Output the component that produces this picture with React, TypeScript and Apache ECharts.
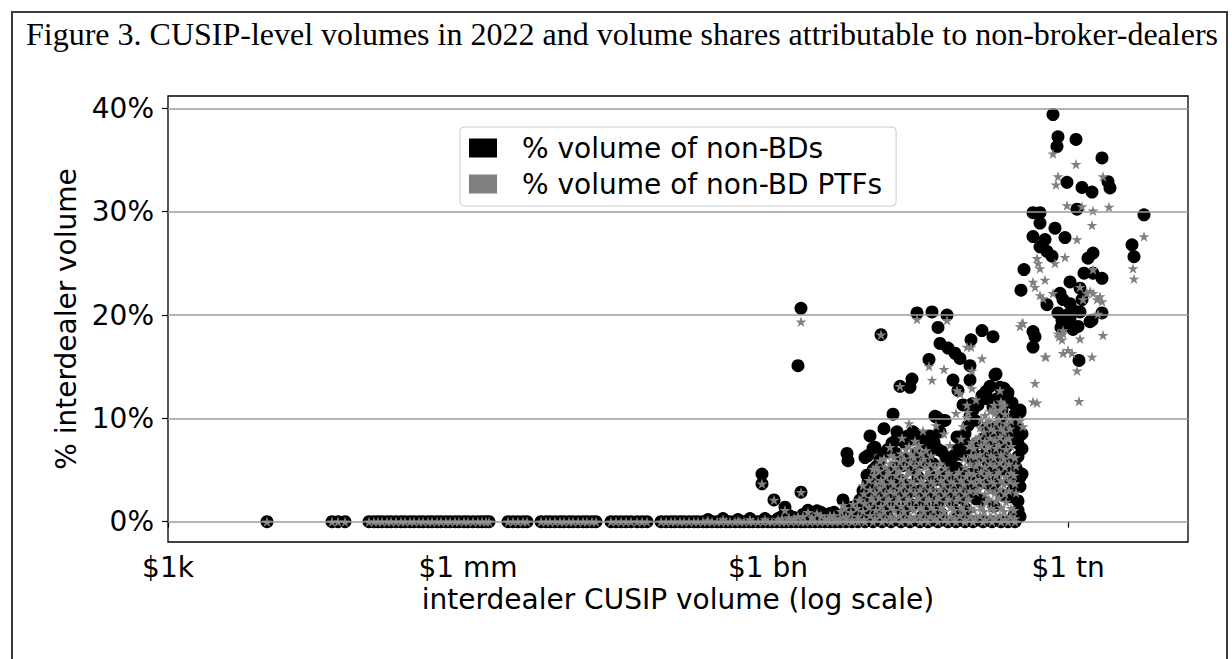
import React, { useEffect, useRef } from 'react';
import * as echarts from 'echarts';

const TITLE = 'Figure 3. CUSIP-level volumes in 2022 and volume shares attributable to non-broker-dealers';
const SERIES_NAMES = ['% volume of non-BDs', '% volume of non-BD PTFs'];
const X_NAME = 'interdealer CUSIP volume (log scale)';
const Y_NAME = '% interdealer volume';
// x values are log10 of the dollar volume
const X_TICKS = [3, 6, 9, 12];
const X_TICK_LABELS = ['$1k', '$1 mm', '$1 bn', '$1 tn'];
const Y_TICKS = [0, 10, 20, 30, 40];

// CUSIPs with zero share in both measures (log10 volume)
const zeroShareVolumes = [
  3.99, 4.64, 4.70, 4.77,
  5.01, 5.06, 5.10, 5.14, 5.19, 5.23, 5.28, 5.33, 5.37, 5.42, 5.46, 5.51, 5.55, 5.60, 5.64, 5.69,
  5.73, 5.78, 5.82, 5.87, 5.91, 5.96, 6.00, 6.05, 6.10, 6.14, 6.18, 6.21,
  6.40, 6.45, 6.50, 6.55, 6.59,
  6.73, 6.78, 6.82, 6.87, 6.92, 6.96, 7.01, 7.05, 7.10, 7.15, 7.19, 7.24, 7.28,
  7.43, 7.48, 7.53, 7.58, 7.63, 7.69, 7.74, 7.79,
  7.93, 7.98, 8.03, 8.07, 8.12, 8.16, 8.21, 8.26, 8.30, 8.35, 8.39, 8.44, 8.49, 8.53, 8.58, 8.62,
  8.67, 8.72, 8.76, 8.81, 8.85, 8.90, 8.95, 9.00, 9.04, 9.09, 9.14, 9.18, 9.23, 9.28, 9.33, 9.37,
  9.42, 9.47, 9.52, 9.57, 9.62, 9.67, 9.72, 9.78, 9.84, 9.90, 9.97, 10.05, 10.14, 10.23, 10.33,
  10.42, 10.52, 10.60, 10.70, 10.80, 10.88, 10.97, 11.05, 11.15, 11.24, 11.33, 11.40, 11.47,
];

// near-zero shares, [log10 volume, %]
const nearZeroNonBd: [number, number][] = [
  [8.40, 0.2], [8.55, 0.3], [8.70, 0.2], [8.82, 0.3], [8.97, 0.3], [9.10, 0.3], [9.14, 0.5], [9.21, 0.6],
  [9.26, 0.4], [9.35, 0.7], [9.44, 0.6], [9.53, 0.9], [9.57, 0.4], [9.60, 0.4], [9.66, 0.9], [9.67, 0.3],
  [9.72, 0.5], [9.78, 0.7],
];
const nearZeroPtf: [number, number][] = [
  [8.40, 0.1], [8.55, 0.2], [8.70, 0.1], [8.82, 0.2], [8.97, 0.2], [9.10, 0.2], [9.14, 0.3], [9.21, 0.4],
  [9.26, 0.3], [9.35, 0.5], [9.44, 0.4], [9.53, 0.6], [9.57, 0.3], [9.60, 0.2], [9.66, 0.6], [9.67, 0.2],
  [9.72, 0.3], [9.78, 0.4],
];

// % volume of non-BDs, [log10 volume, %]
const nonBdPoints: [number, number][] = [
  [8.94, 4.6], [8.94, 3.66], [9.06, 2.1], [9.17, 1.4], [9.33, 2.85], [9.30, 15.1], [9.33, 20.65], [9.40, 1.1],
  [9.49, 1.05], [9.62, 0.8], [9.75, 2.1], [9.92, 2.1], [10.13, 18.1],
  [10.49, 20.2], [10.64, 20.3], [10.79, 20.0], [10.70, 18.8], [10.61, 15.7], [10.44, 13.8], [10.42, 13.0],
  [10.32, 13.1], [10.25, 10.4], [10.69, 10.1], [10.16, 9.0], [10.02, 8.3], [10.29, 8.7], [10.45, 8.7],
  [10.54, 8.2], [10.07, 7.2], [10.00, 6.4], [9.79, 6.6], [9.80, 5.9], [9.97, 6.2], [10.05, 7.1],
  [11.14, 18.5], [11.25, 17.9], [11.03, 17.6], [10.72, 17.25], [10.80, 16.8], [10.87, 16.3], [10.92, 15.8],
  [11.02, 15.1], [11.28, 14.3], [10.85, 13.7], [10.90, 12.7], [11.02, 13.7], [11.32, 13.0], [11.39, 12.2],
  [11.19, 11.9], [11.29, 11.9], [10.95, 11.3], [11.04, 11.4], [11.52, 10.8], [10.67, 10.2], [10.75, 9.8],
  [10.72, 8.7], [10.89, 8.2], [10.97, 8.5], [10.47, 8.5], [10.59, 7.9], [10.67, 7.2], [11.54, 8.5],
  [11.54, 7.05], [11.54, 4.6], [11.50, 1.1], [10.99, 7.2], [11.07, 5.9], [11.19, 7.2], [11.24, 7.9],
  [11.29, 9.2], [11.42, 2.4], [11.27, 14.2], [11.25, 11.1], [11.34, 10.8], [11.52, 10.6], [11.25, 8.85],
  [11.32, 7.9], [11.25, 6.25], [11.52, 4.3], [11.07, 9.8], [10.55, 7.9], [10.62, 6.9], [10.77, 9.8],
  [11.05, 5.9],
  [11.85, 39.4], [11.90, 37.25], [11.89, 36.3], [12.08, 37.0], [12.34, 35.2], [11.99, 32.85], [12.14, 32.35],
  [12.24, 31.9], [12.40, 32.9], [12.42, 32.3], [12.09, 30.25], [11.65, 29.9], [11.72, 29.9], [11.72, 28.9],
  [12.76, 29.7], [11.87, 28.4], [11.97, 27.5], [11.65, 27.6], [11.77, 27.3], [11.72, 26.6], [11.79, 26.15],
  [11.84, 25.7], [12.25, 26.0], [12.20, 25.5], [11.56, 24.4], [12.16, 24.05], [12.25, 24.05], [12.34, 23.55],
  [12.64, 26.8], [12.66, 25.65], [11.53, 22.4], [12.02, 23.2], [12.12, 22.6], [11.92, 22.1], [11.95, 21.5],
  [12.02, 21.1], [12.14, 21.5], [11.79, 21.0], [12.24, 19.5], [12.34, 20.2], [11.94, 19.5], [12.02, 19.7],
  [12.10, 18.9], [12.12, 20.3], [11.65, 18.4], [11.67, 17.9], [11.65, 16.9], [12.11, 15.6], [11.90, 20.2],
  [11.96, 19.0], [12.05, 18.6], [12.06, 20.4], [11.99, 20.0], [11.93, 18.8], [12.22, 19.35],
  // edge and interior of the dense cluster
  [9.80, 1.2], [9.85, 1.4], [9.88, 0.9], [9.93, 1.8], [9.97, 2.6], [10.00, 3.8], [10.03, 4.6], [10.08, 5.3],
  [10.12, 6.0], [10.16, 6.6], [10.20, 7.0], [10.24, 7.6], [10.28, 7.9], [10.33, 8.1], [10.37, 7.6],
  [10.40, 8.3], [10.43, 7.9], [10.50, 8.0], [10.58, 7.6], [10.62, 8.3], [10.66, 7.7], [10.70, 7.0],
  [10.74, 6.8], [10.78, 6.2], [10.82, 5.8], [10.86, 6.4], [10.90, 7.0], [10.93, 6.5], [10.97, 7.6],
  [11.00, 9.3], [11.02, 10.2], [11.05, 10.8], [11.10, 11.3], [11.14, 12.2], [11.18, 12.6], [11.22, 13.1],
  [11.36, 12.9], [11.40, 12.5], [11.44, 11.5], [11.47, 10.4], [11.49, 9.0], [11.50, 7.6], [11.50, 6.3],
  [11.48, 5.2], [11.52, 3.4], [11.50, 2.0], [11.46, 0.6], [11.52, 0.5],
  [9.85, 0.3], [9.92, 0.6], [10.02, 1.2], [10.10, 2.0], [10.18, 3.2], [10.26, 1.6], [10.33, 4.0],
  [10.38, 2.4], [10.46, 5.2], [10.52, 3.0], [10.57, 1.4], [10.63, 4.4], [10.68, 2.6], [10.73, 0.8],
  [10.78, 3.6], [10.84, 1.8], [10.92, 3.4], [10.98, 1.2], [11.03, 4.6], [11.08, 2.2], [11.12, 6.3],
  [11.17, 3.8], [11.21, 8.4], [11.26, 1.5], [11.30, 5.0], [11.34, 2.6], [11.38, 7.2], [11.42, 4.1],
  [11.45, 9.3], [10.36, 6.1], [10.48, 6.6], [10.56, 5.7], [10.26, 5.2], [10.15, 4.6], [10.07, 3.2],
  [9.85, 1.4], [9.95, 3.0], [9.99, 4.5], [10.05, 5.0], [10.12, 4.3],
  [9.82, 0.6], [9.90, 1.5], [9.96, 0.8], [10.04, 2.2], [10.09, 0.9], [10.14, 2.6], [10.20, 1.2],
  [10.23, 4.1], [10.30, 2.9], [10.35, 0.9], [10.41, 3.5], [10.44, 1.6], [10.50, 4.3], [10.54, 2.1],
  [10.60, 3.3], [10.65, 5.6], [10.70, 1.7], [10.75, 4.6], [10.80, 2.4], [10.86, 3.0], [10.89, 5.2],
  [10.95, 2.2], [11.00, 4.0], [11.04, 6.8], [11.10, 4.8], [11.15, 8.0], [11.20, 5.8], [11.24, 3.3],
  [11.29, 6.8], [11.35, 9.0], [11.40, 6.0], [11.44, 2.9], [10.28, 6.6], [10.40, 5.4], [10.60, 6.5],
  [10.19, 0.6], [10.25, 2.3], [10.29, 4.0], [10.34, 5.4], [10.39, 1.5], [10.45, 3.0], [10.49, 5.9],
  [10.55, 0.6], [10.59, 2.4], [10.64, 1.0], [10.69, 4.1], [10.74, 2.7], [10.79, 5.0], [10.84, 4.3],
  [10.90, 0.9], [10.94, 4.5], [10.99, 2.9], [11.06, 3.4], [11.09, 7.6], [11.14, 2.1], [11.19, 4.9],
  [11.24, 7.0], [11.28, 3.9], [11.33, 6.0], [11.39, 4.8], [11.43, 8.4], [11.34, 10.1], [11.19, 9.1],
];

// % volume of non-BD PTFs, sparse points, [log10 volume, %]
const ptfPoints: [number, number][] = [
  [9.33, 19.35], [10.13, 18.1], [10.49, 19.6], [10.61, 15.05], [10.64, 13.7], [10.32, 13.1], [10.41, 9.5],
  [8.94, 3.66], [9.33, 2.85], [9.06, 2.1], [9.92, 2.1], [10.79, 19.5], [11.03, 16.9], [11.14, 15.8],
  [10.76, 14.75], [11.55, 19.2], [11.77, 15.95], [11.67, 13.4], [11.65, 11.6], [11.69, 11.5], [11.95, 18.2],
  [11.95, 16.3], [11.72, 21.9], [10.89, 12.7], [10.99, 11.3], [11.04, 7.7], [10.05, 5.1], [10.99, 16.9],
  [11.04, 14.6], [11.32, 12.7], [11.35, 11.3], [11.27, 10.8], [11.04, 12.9], [10.92, 12.4], [10.99, 10.1],
  [11.52, 9.8], [11.55, 9.2], [9.17, 1.1], [9.40, 0.9], [9.49, 0.8], [9.62, 0.6], [9.75, 1.6], [9.30, 0.5],
  [10.95, 9.2], [11.00, 10.6], [10.93, 8.0], [11.08, 11.8], [10.88, 10.5], [10.82, 7.4], [10.76, 8.5],
  [10.68, 9.3], [10.55, 8.8], [10.47, 7.8], [10.34, 8.1], [10.22, 7.2], [10.12, 5.9],
  [11.85, 35.6], [12.08, 34.6], [11.90, 33.4], [11.88, 32.6], [12.35, 33.4], [11.99, 30.6], [12.14, 30.5],
  [12.25, 30.1], [12.41, 30.45], [12.24, 28.7], [12.09, 27.3], [11.97, 25.6], [11.69, 25.5], [11.72, 24.5],
  [11.87, 25.0], [11.70, 25.0], [12.25, 24.4], [12.76, 27.6], [12.65, 24.5], [12.66, 23.5], [11.65, 23.2],
  [11.67, 22.7], [11.77, 23.4], [11.85, 22.1], [11.75, 21.6], [12.25, 22.1], [12.32, 21.8], [12.34, 21.3],
  [12.29, 21.5], [12.22, 22.3], [11.54, 19.2], [11.52, 18.9], [11.90, 18.2], [11.94, 17.6], [11.91, 17.9],
  [11.95, 18.5], [12.12, 17.7], [12.35, 18.05], [12.04, 16.3], [12.00, 16.6], [11.78, 15.95], [12.24, 15.95],
  [12.09, 14.6], [12.11, 11.65], [12.15, 21.5], [12.12, 22.7], [12.19, 22.1], [12.30, 20.1],
];

// % volume of non-BD PTFs, dense cluster between $5 bn and $300 bn
const clusterPtfPoints: [number, number][] = [
  [9.72, 0.3], [9.73, 1.0], [9.78, 0.5], [9.77, 1.3], [9.84, 0.2], [9.83, 0.9], [9.85, 1.7],
  [9.90, 0.5], [9.89, 1.3], [9.91, 2.1], [9.96, 0.2], [9.95, 1.0], [9.97, 1.8], [9.96, 2.7], [9.95, 3.5],
  [10.02, 0.6], [10.01, 1.4], [10.03, 2.3], [10.02, 3.1], [10.01, 4.0],
  [10.07, 0.3], [10.08, 1.1], [10.06, 1.9], [10.07, 2.8], [10.08, 3.7], [10.06, 4.5], [10.08, 5.3],
  [10.12, 0.6], [10.13, 1.5], [10.11, 2.3], [10.12, 3.2], [10.13, 4.0], [10.11, 4.9],
  [10.17, 0.2], [10.16, 1.0], [10.18, 1.9], [10.17, 2.7], [10.16, 3.6], [10.18, 4.4], [10.17, 5.3], [10.16, 6.1],
  [10.22, 0.5], [10.23, 1.4], [10.21, 2.2], [10.22, 3.0], [10.23, 3.9], [10.21, 4.8], [10.22, 5.6], [10.23, 6.4],
  [10.27, 0.3], [10.26, 1.1], [10.28, 1.9], [10.27, 2.8], [10.26, 3.6], [10.28, 4.5], [10.27, 5.3], [10.26, 6.2],
  [10.32, 0.6], [10.33, 1.5], [10.31, 2.3], [10.32, 3.2], [10.33, 4.1], [10.31, 4.9], [10.32, 5.8], [10.33, 6.6],
  [10.37, 0.2], [10.36, 1.0], [10.38, 1.9], [10.37, 2.7], [10.36, 3.6], [10.38, 4.4], [10.37, 5.3], [10.36, 6.1], [10.38, 7.0],
  [10.42, 0.5], [10.43, 1.4], [10.41, 2.2], [10.42, 3.1], [10.43, 3.9], [10.41, 4.8], [10.42, 5.7], [10.43, 6.5], [10.41, 7.3],
  [10.47, 0.3], [10.46, 1.1], [10.48, 2.0], [10.47, 2.8], [10.46, 3.7], [10.48, 4.5], [10.47, 5.4], [10.46, 6.2], [10.48, 7.0],
  [10.52, 0.6], [10.53, 1.4], [10.51, 2.3], [10.52, 3.1], [10.53, 4.0], [10.51, 4.9], [10.52, 5.7], [10.53, 6.6], [10.51, 7.4],
  [10.57, 0.2], [10.56, 1.0], [10.58, 1.9], [10.57, 2.7], [10.56, 3.6], [10.58, 4.4], [10.57, 5.3], [10.56, 6.1], [10.58, 6.9],
  [10.62, 0.5], [10.63, 1.4], [10.61, 2.2], [10.62, 3.1], [10.63, 3.9], [10.61, 4.8], [10.62, 5.6], [10.63, 6.4],
  [10.67, 0.3], [10.66, 1.1], [10.68, 2.0], [10.67, 2.8], [10.66, 3.7], [10.68, 4.5], [10.67, 5.3],
  [10.72, 0.6], [10.73, 1.4], [10.71, 2.3], [10.72, 3.1], [10.73, 4.0], [10.71, 4.8], [10.72, 5.6],
  [10.77, 0.2], [10.76, 1.0], [10.78, 1.9], [10.77, 2.7], [10.76, 3.6], [10.78, 4.4], [10.77, 5.2],
  [10.82, 0.5], [10.83, 1.4], [10.81, 2.2], [10.82, 3.1], [10.83, 3.9], [10.81, 4.7],
  [10.87, 0.3], [10.86, 1.1], [10.88, 2.0], [10.87, 2.8], [10.86, 3.7], [10.88, 4.5],
  [10.92, 0.6], [10.93, 1.4], [10.91, 2.3], [10.92, 3.1], [10.93, 4.0], [10.91, 4.8],
  [10.97, 0.2], [10.96, 1.0], [10.98, 1.9], [10.97, 2.7], [10.96, 3.6], [10.98, 4.4], [10.97, 5.3], [10.96, 6.1],
  [11.02, 0.5], [11.03, 1.3], [11.01, 2.2], [11.02, 3.0], [11.03, 3.9], [11.01, 4.7], [11.02, 5.6], [11.03, 6.4], [11.01, 7.3],
  [11.07, 0.3], [11.06, 1.1], [11.08, 2.9], [11.07, 3.7], [11.06, 4.6], [11.08, 5.4], [11.07, 6.3], [11.06, 7.1], [11.08, 8.0],
  [11.12, 0.6], [11.13, 1.4], [11.11, 3.1], [11.12, 4.0], [11.13, 4.8], [11.11, 5.7], [11.12, 6.5], [11.13, 7.4],
  [11.11, 8.2], [11.12, 9.1], [11.13, 9.9],
  [11.17, 0.2], [11.16, 1.0], [11.18, 1.9], [11.17, 2.7], [11.16, 3.6], [11.18, 4.4], [11.17, 5.3], [11.16, 6.1],
  [11.18, 7.0], [11.17, 7.8], [11.16, 8.7], [11.18, 9.5], [11.17, 10.3],
  [11.22, 0.5], [11.23, 1.3], [11.21, 2.2], [11.22, 3.0], [11.23, 3.9], [11.21, 4.7], [11.22, 5.6], [11.23, 6.4],
  [11.21, 7.3], [11.22, 8.1], [11.23, 9.0], [11.21, 9.8], [11.22, 10.7],
  [11.27, 0.3], [11.26, 1.1], [11.28, 2.0], [11.27, 2.8], [11.26, 3.7], [11.28, 4.5], [11.27, 5.4], [11.26, 6.2],
  [11.28, 7.1], [11.27, 7.9], [11.26, 8.8], [11.28, 9.6], [11.27, 10.5], [11.26, 11.3],
  [11.32, 0.6], [11.33, 1.4], [11.31, 2.3], [11.32, 3.1], [11.33, 4.0], [11.31, 4.8], [11.32, 5.7], [11.33, 6.5],
  [11.31, 7.4], [11.32, 8.2], [11.33, 9.1], [11.31, 9.9], [11.32, 10.8], [11.33, 11.6],
  [11.37, 0.2], [11.36, 1.0], [11.38, 1.9], [11.37, 2.7], [11.36, 3.6], [11.38, 4.4], [11.37, 5.3], [11.36, 6.1],
  [11.38, 7.0], [11.37, 7.8], [11.36, 8.7], [11.38, 9.5], [11.37, 10.4], [11.36, 11.2],
  [11.42, 0.5], [11.43, 1.3], [11.41, 3.0], [11.42, 3.9], [11.43, 4.7], [11.41, 5.6], [11.42, 6.4], [11.43, 7.3],
  [11.41, 8.1], [11.42, 9.0], [11.43, 9.8],
  [11.47, 0.3], [11.46, 1.1], [11.48, 2.8], [11.47, 3.7], [11.46, 4.5], [11.48, 5.4], [11.47, 6.2],
];

const STAR = 'path://M50,2L61.2,36.6L97.6,36.5L68.1,57.9L79.4,92.5L50,71L20.6,92.5L31.9,57.9L2.4,36.5L38.8,36.6Z';
const SANS = 'DejaVu Sans';

export default function App() {
  const ref = useRef<HTMLDivElement>(null);

  useEffect(() => {
    if (!ref.current) return;
    const chart = echarts.init(ref.current, undefined, { renderer: 'svg' });

    const nonBdData = [
      ...zeroShareVolumes.map((v) => [v, 0]),
      ...nearZeroNonBd,
      ...nonBdPoints,
    ];
    const ptfData = [
      ...zeroShareVolumes.map((v) => [v, 0]),
      ...nearZeroPtf,
      ...ptfPoints,
      ...clusterPtfPoints,
    ];

    const axisText = { fontFamily: SANS, fontSize: 28, color: '#000' };

    chart.setOption({
      animation: false,
      backgroundColor: '#ffffff',
      title: {
        text: TITLE,
        left: 26,
        top: 18,
        padding: 0,
        textStyle: { fontFamily: 'Liberation Serif', fontSize: 32, fontWeight: 'normal', color: '#000' },
      },
      graphic: [
        {
          type: 'rect',
          silent: true,
          shape: { x: 12, y: 12, width: 1215, height: 700 },
          style: { fill: 'none', stroke: '#3a3a3a', lineWidth: 2 },
        },
      ],
      legend: {
        data: SERIES_NAMES,
        orient: 'vertical',
        left: 460,
        top: 127,
        padding: [7, 14, 8, 9],
        itemGap: 8,
        itemWidth: 28,
        itemHeight: 19,
        icon: 'rect',
        selectedMode: false,
        backgroundColor: 'rgba(255,255,255,0.8)',
        borderColor: '#cccccc',
        borderWidth: 1,
        borderRadius: 4,
        textStyle: { ...axisText, padding: [0, 0, 0, 20] },
      },
      grid: {
        left: 168,
        right: 44,
        top: 96,
        bottom: 117,
        show: true,
        borderColor: '#000',
        borderWidth: 1.3,
        backgroundColor: 'transparent',
      },
      xAxis: {
        type: 'value',
        min: 3,
        max: 13.2,
        axisLine: { show: false },
        splitLine: { show: false },
        axisTick: { show: true, length: 6, customValues: X_TICKS, lineStyle: { color: '#000', width: 1.2 } },
        axisLabel: {
          ...axisText,
          margin: 11,
          customValues: X_TICKS,
          formatter: (v: number) => {
            const i = X_TICKS.indexOf(v);
            return i >= 0 ? X_TICK_LABELS[i] : '';
          },
        },
        name: X_NAME,
        nameLocation: 'middle',
        nameGap: 42,
        nameTextStyle: axisText,
      },
      yAxis: {
        type: 'value',
        min: -1.97,
        max: 41.2,
        axisLine: { show: false },
        splitLine: { show: false },
        axisTick: { show: true, length: 6, customValues: Y_TICKS, lineStyle: { color: '#000', width: 1.2 } },
        axisLabel: {
          ...axisText,
          margin: 14,
          customValues: Y_TICKS,
          formatter: (v: number) => `${v}%`,
        },
        name: Y_NAME,
        nameLocation: 'middle',
        nameGap: 77,
        nameRotate: 90,
        nameTextStyle: axisText,
      },
      series: [
        {
          type: 'line',
          data: [],
          z: 1,
          silent: true,
          markLine: {
            silent: true,
            symbol: 'none',
            label: { show: false },
            lineStyle: { color: '#9c9c9c', width: 1.6, type: 'solid' },
            data: Y_TICKS.map((v) => ({ yAxis: v })),
          },
        },
        {
          name: SERIES_NAMES[0],
          type: 'scatter',
          symbol: 'circle',
          symbolSize: 13,
          itemStyle: { color: '#000000', opacity: 1 },
          z: 2,
          data: nonBdData,
        },
        {
          name: SERIES_NAMES[1],
          type: 'scatter',
          symbol: STAR,
          symbolSize: 11,
          symbolKeepAspect: true,
          itemStyle: { color: '#808080', opacity: 1 },
          z: 3,
          data: ptfData,
        },
      ],
    });

    return () => chart.dispose();
  }, []);

  return (
    <div
      ref={ref}
      style={{ position: 'absolute', left: 0, top: 0, width: 1232, height: 659, background: '#fff' }}
    />
  );
}
